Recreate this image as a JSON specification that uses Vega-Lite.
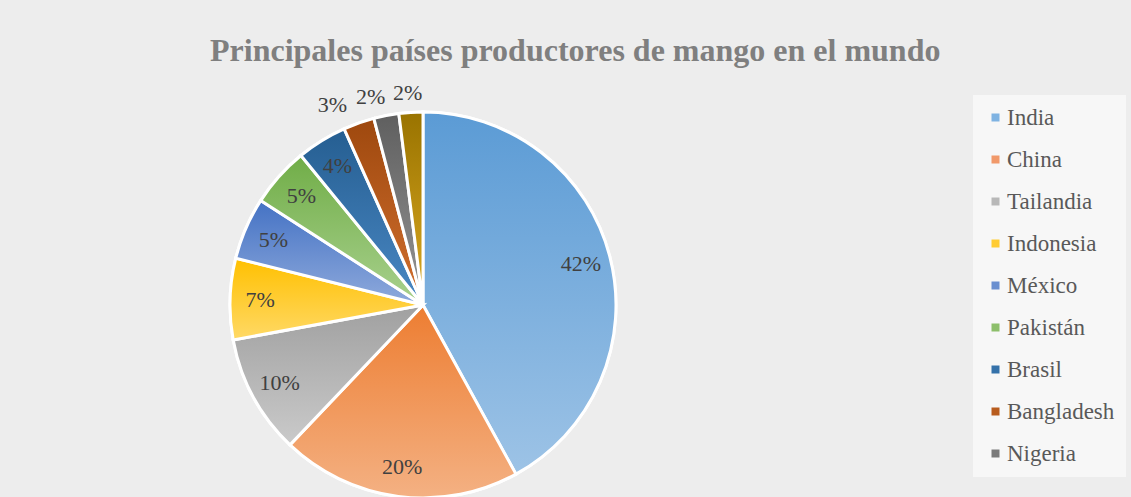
{
  "$schema": "https://vega.github.io/schema/vega-lite/v6.json",
  "autosize": "none",
  "width": 846,
  "height": 388,
  "padding": {"left": 0, "top": 111, "right": 285, "bottom": 0},
  "background": "#ededed",
  "config": {
    "font": "Liberation Serif",
    "view": {"stroke": null},
    "legend": {"labelFont": "Liberation Serif", "labelFontSize": 23, "labelColor": "#595959"}
  },
  "title": {
    "text": "Principales países productores de mango en el mundo",
    "font": "Liberation Serif",
    "fontSize": 32,
    "fontWeight": "bold",
    "color": "#7f7f7f",
    "anchor": "start",
    "frame": "group",
    "dx": 210,
    "dy": 62,
    "offset": 51,
    "baseline": "alphabetic"
  },
  "data": {
    "values": [
      {"orden": 1, "pais": "India", "valor": 42.0},
      {"orden": 2, "pais": "China", "valor": 20.1},
      {"orden": 3, "pais": "Tailandia", "valor": 10.0},
      {"orden": 4, "pais": "Indonesia", "valor": 6.8},
      {"orden": 5, "pais": "México", "valor": 5.2},
      {"orden": 6, "pais": "Pakistán", "valor": 5.0},
      {"orden": 7, "pais": "Brasil", "valor": 4.2},
      {"orden": 8, "pais": "Bangladesh", "valor": 2.6},
      {"orden": 9, "pais": "Nigeria", "valor": 2.1},
      {"orden": 10, "pais": "Egipto", "valor": 2.0}
    ]
  },
  "transform": [
    {"calculate": "format(datum.valor / 100, '.0%')", "as": "etiqueta"}
  ],
  "layer": [
    {
      "mark": {"type": "arc", "outerRadius": 193, "stroke": "white", "strokeWidth": 3},
      "encoding": {
        "theta": {"field": "valor", "type": "quantitative", "stack": true},
        "order": {"field": "orden", "type": "quantitative"},
        "color": {
          "field": "pais",
          "type": "nominal",
          "sort": null,
          "scale": {
            "domain": ["India", "China", "Tailandia", "Indonesia", "México", "Pakistán", "Brasil", "Bangladesh", "Nigeria", "Egipto"],
            "range": ["#7fb3e2", "#f1996a", "#b8b8b8", "#ffcc33", "#6a8fd0", "#8dbf6b", "#3572aa", "#b85c1e", "#7a7a7a", "#bb8c10"]
          },
          "legend": {
            "orient": "none",
            "legendX": 973,
            "legendY": -16,
            "title": null,
            "values": ["India", "China", "Tailandia", "Indonesia", "México", "Pakistán", "Brasil", "Bangladesh", "Nigeria"],
            "symbolType": "square",
            "symbolSize": 64,
            "symbolStrokeWidth": 0,
            "labelFont": "Liberation Serif",
            "labelFontSize": 23,
            "labelColor": "#595959",
            "labelOffset": 0,
            "labelLimit": 300,
            "rowPadding": 18,
            "padding": 11,
            "fillColor": "#f7f7f7"
          }
        }
      }
    },
    {
      "mark": {"type": "arc", "outerRadius": 193, "stroke": "white", "strokeWidth": 3},
      "encoding": {
        "theta": {"field": "valor", "type": "quantitative", "stack": true},
        "order": {"field": "orden", "type": "quantitative"},
        "fill": {
          "condition": [
            {"test": "datum.pais === 'India'", "value": {"gradient": "linear", "x1": 0, "y1": 0, "x2": 0, "y2": 1, "stops": [{"offset": 0, "color": "#5b9bd5"}, {"offset": 1, "color": "#9dc3e6"}]}},
            {"test": "datum.pais === 'China'", "value": {"gradient": "linear", "x1": 0, "y1": 0, "x2": 0, "y2": 1, "stops": [{"offset": 0, "color": "#ed7d31"}, {"offset": 1, "color": "#f4b183"}]}},
            {"test": "datum.pais === 'Tailandia'", "value": {"gradient": "linear", "x1": 0, "y1": 0, "x2": 0, "y2": 1, "stops": [{"offset": 0, "color": "#a0a0a0"}, {"offset": 1, "color": "#cacaca"}]}},
            {"test": "datum.pais === 'Indonesia'", "value": {"gradient": "linear", "x1": 0, "y1": 0, "x2": 0, "y2": 1, "stops": [{"offset": 0, "color": "#ffc000"}, {"offset": 1, "color": "#ffd966"}]}},
            {"test": "datum.pais === 'México'", "value": {"gradient": "linear", "x1": 0, "y1": 0, "x2": 0, "y2": 1, "stops": [{"offset": 0, "color": "#4472c4"}, {"offset": 1, "color": "#8faadc"}]}},
            {"test": "datum.pais === 'Pakistán'", "value": {"gradient": "linear", "x1": 0, "y1": 0, "x2": 0, "y2": 1, "stops": [{"offset": 0, "color": "#70ad47"}, {"offset": 1, "color": "#a9d18e"}]}},
            {"test": "datum.pais === 'Brasil'", "value": {"gradient": "linear", "x1": 0, "y1": 0, "x2": 0, "y2": 1, "stops": [{"offset": 0, "color": "#255e91"}, {"offset": 1, "color": "#4a88c4"}]}},
            {"test": "datum.pais === 'Bangladesh'", "value": {"gradient": "linear", "x1": 0, "y1": 0, "x2": 0, "y2": 1, "stops": [{"offset": 0, "color": "#9e480e"}, {"offset": 1, "color": "#d2702f"}]}},
            {"test": "datum.pais === 'Nigeria'", "value": {"gradient": "linear", "x1": 0, "y1": 0, "x2": 0, "y2": 1, "stops": [{"offset": 0, "color": "#5f5f5f"}, {"offset": 1, "color": "#959595"}]}}
          ],
          "value": {"gradient": "linear", "x1": 0, "y1": 0, "x2": 0, "y2": 1, "stops": [{"offset": 0, "color": "#997300"}, {"offset": 1, "color": "#dcaa22"}]}
        }
      }
    },
    {
      "mark": {"type": "text", "radius": 163, "font": "Liberation Serif", "fontSize": 22, "color": "#404040"},
      "encoding": {
        "theta": {"field": "valor", "type": "quantitative", "stack": true},
        "order": {"field": "orden", "type": "quantitative"},
        "text": {"condition": {"test": "datum.valor >= 3.5", "field": "etiqueta"}, "value": ""}
      }
    },
    {
      "mark": {"type": "text", "radius": 212, "dx": -20, "font": "Liberation Serif", "fontSize": 22, "color": "#404040"},
      "encoding": {
        "theta": {"field": "valor", "type": "quantitative", "stack": true},
        "order": {"field": "orden", "type": "quantitative"},
        "text": {"condition": {"test": "datum.pais === 'Bangladesh'", "field": "etiqueta"}, "value": ""}
      }
    },
    {
      "mark": {"type": "text", "radius": 212, "dx": -12, "font": "Liberation Serif", "fontSize": 22, "color": "#404040"},
      "encoding": {
        "theta": {"field": "valor", "type": "quantitative", "stack": true},
        "order": {"field": "orden", "type": "quantitative"},
        "text": {"condition": {"test": "datum.pais === 'Nigeria'", "field": "etiqueta"}, "value": ""}
      }
    },
    {
      "mark": {"type": "text", "radius": 212, "dx": -2, "font": "Liberation Serif", "fontSize": 22, "color": "#404040"},
      "encoding": {
        "theta": {"field": "valor", "type": "quantitative", "stack": true},
        "order": {"field": "orden", "type": "quantitative"},
        "text": {"condition": {"test": "datum.pais === 'Egipto'", "field": "etiqueta"}, "value": ""}
      }
    }
  ]
}
